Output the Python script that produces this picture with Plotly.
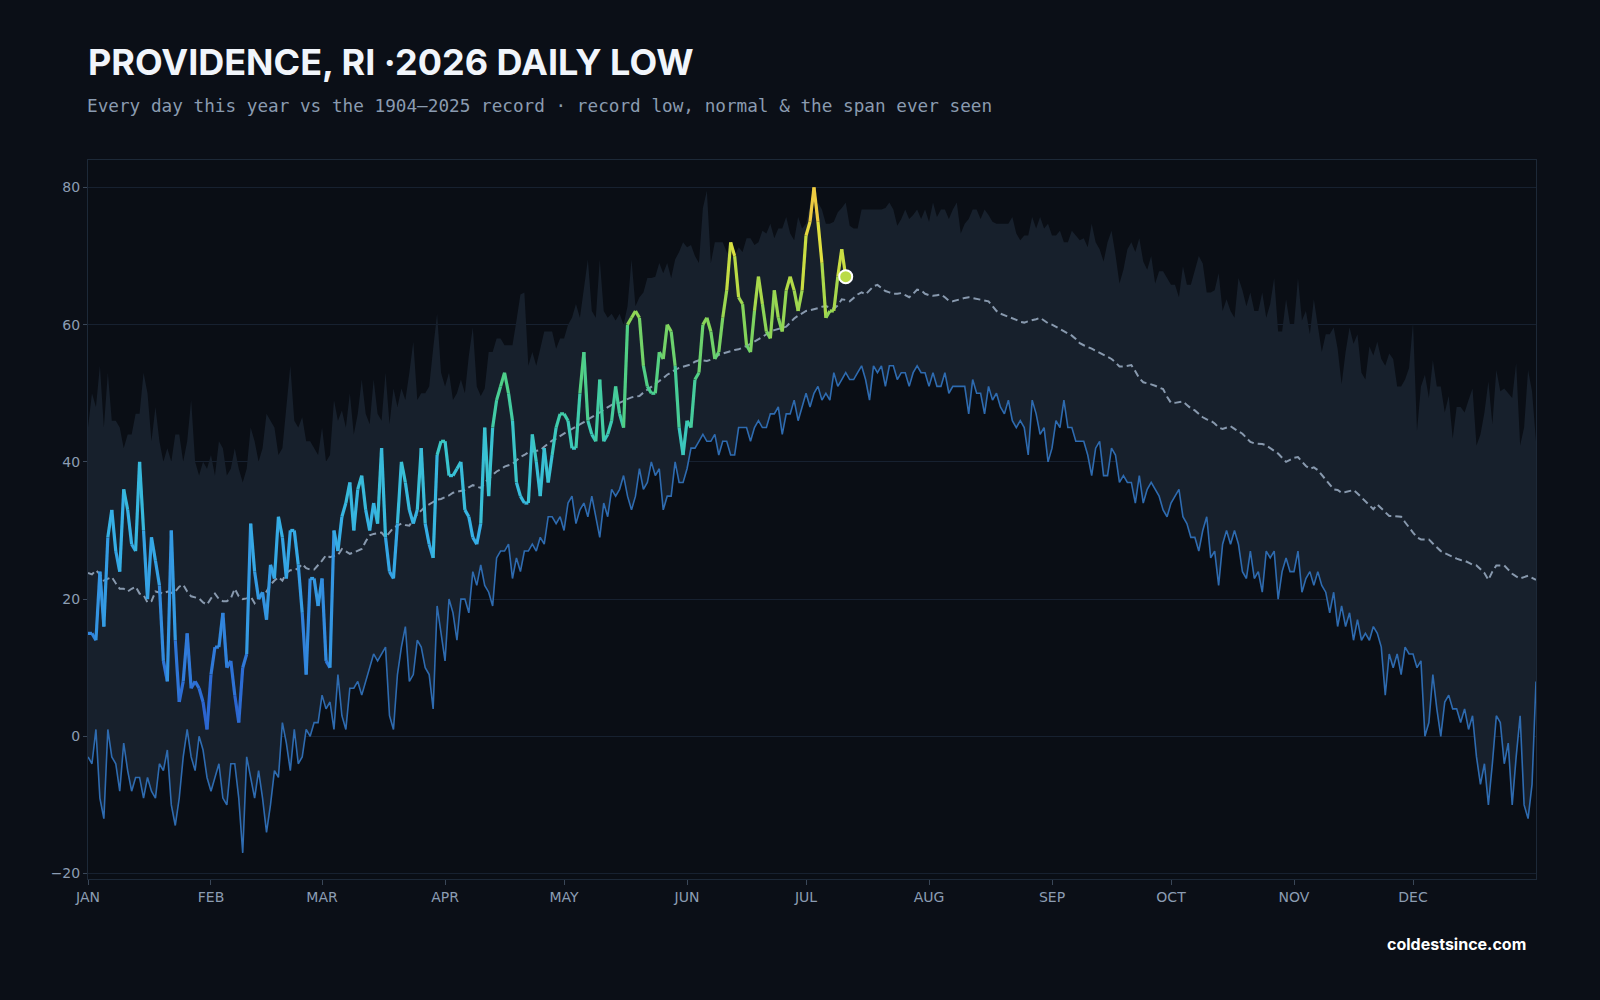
import plotly.graph_objects as go
from plotly.colors import sample_colorscale

# ---------------- data ----------------
MONTH_LABELS = ["JAN", "FEB", "MAR", "APR", "MAY", "JUN", "JUL", "AUG", "SEP", "OCT", "NOV", "DEC"]
MONTH_START = [0, 31, 59, 90, 120, 151, 181, 212, 243, 273, 304, 334]

# record high of the daily low (top of the "span ever seen"), day 0..365
record_high = [
    45, 50, 48, 54, 45, 53, 46, 46, 45, 42, 44, 44, 47, 47, 53, 50, 43, 48, 43, 40,
    42, 40, 44, 44, 40, 43, 49, 40, 38, 40, 39, 41, 38, 43, 42, 38, 39, 42, 39, 37,
    39, 45, 43, 40, 42, 47, 46, 45, 41, 42, 48, 54, 46, 45, 46.5, 43, 43, 42, 41, 45,
    40, 41, 49, 46,
    47.5, 45, 50, 44, 47, 52, 47, 45.5, 52, 47, 46, 53, 45.5, 50.7, 48, 50.7, 49, 53, 57.5, 49,
    50, 50, 51, 56.5, 61.6, 53, 51, 53, 49, 50, 52, 50, 55.5, 59.6, 51, 49.6, 50.7, 56, 56, 58,
    58, 57, 57, 57, 60.6, 64.4, 64.7, 54, 56, 54, 56.5, 59, 59, 59, 56.5, 58, 58, 60, 61, 63,
    61, 65, 69.5, 62, 61, 69.5, 62, 61, 61.6, 60.6, 61.6, 60, 62.7, 69.5, 62.7, 64, 64.7, 66.8, 66.8, 67,
    69, 67.5, 69, 66.8, 69.5, 70.6, 72, 71.3, 71.6, 70, 69, 77, 79.5, 69, 72, 72, 72, 70.6, 70, 70,
    71.3, 70.6, 72.6, 72.6, 71.6, 72, 73.7, 73.3, 74.7, 72.6, 74, 74, 75.7, 73.3, 72.3, 75.7, 74, 74.7, 77.5, 76.4,
    77.8, 76.8, 74.7,
    74.7, 75, 76.4, 77, 77.8, 74.4, 74, 74, 76.8, 76.8, 76.8, 76.8, 76.8, 76.8, 77, 77.8, 76.8, 74.4, 75.4, 76.8,
    75.4, 76, 76.8, 75.4, 76.8, 75, 77.8, 75.7, 76.8, 76.8, 75.4, 76.8, 77.8, 73.3, 74.7, 75.4, 76.8, 76.8, 75.4, 76.8,
    76, 75, 74.7, 74.7, 74.7, 74.7, 75.7, 73.3, 72.3, 73, 73, 75.7, 74, 75.7, 74, 74.7, 73, 73, 73.7, 72,
    72, 73.7, 73,
    72.3, 72.6, 71.3, 74.7, 72, 71, 69.2, 72, 73.7, 70.2, 66, 68, 71, 72, 70.6, 72.6, 69.2, 68, 70, 66,
    67.8, 67.8, 66.8, 65.8, 65.8, 64, 68.5, 65.8, 65.8, 68, 70, 68.9, 64.7, 64.7, 65, 67.5, 62, 63.7, 62, 61,
    66.8, 65, 62.7, 64.7, 62, 62, 64.7, 61, 63, 66.8, 59, 59, 63.7, 60, 60, 66.8, 60.6, 62, 58.6, 63.7,
    60, 56, 58.6,
    58.6, 59.6, 56.5, 51.3, 56, 59.6, 57.2, 58.6, 53, 52, 56.8, 55.5, 57.5, 55, 54, 55.8, 55, 51, 51, 52,
    53.7, 60.3, 44.5, 51, 52.7, 49.3, 54.8, 51, 51, 47.2, 49.6, 43.4, 48, 48, 47.2, 49, 50.7, 42.4, 44, 47.2,
    51.7, 45.5, 53.4, 50.3, 50.7, 50, 49.3, 54.4, 42.4, 45, 53.4, 50.3, 43,
]

# record low, day 0..365
record_low = [
    -3, -4, 1, -9, -12, 1, -3, -4, -8, -1, -5, -8, -6, -6, -9, -6, -8, -9, -4, -5,
    -2, -10, -13, -9, -3, 1, -3, -5, 0, -2, -6, -8, -6, -4, -9, -10, -4, -4, -9, -17,
    -3, -6, -9, -5, -9, -14, -10, -5, -6, 2, -1, -5, 1, -4, -3, 1, 0, 2, 2, 6,
    4, 5, 1, 9,
    3, 1, 7, 7, 8, 6, 8, 10, 12, 11, 12, 13, 3, 1, 9, 13, 16, 8, 9, 14,
    13, 10, 9, 4, 19, 15, 11, 20, 18, 14, 20, 20, 18, 24, 22, 25, 22, 21, 19, 26,
    27, 27, 28, 23, 26, 24, 27, 27, 28, 27, 29, 28, 32, 32, 31, 32, 30, 34, 35, 31,
    33,
    34, 32, 35, 32, 29, 34, 32, 36, 35, 36, 38, 35, 33, 35, 39, 36, 37, 40, 38, 39,
    33, 35, 35, 40, 37, 37, 39, 42, 42, 43, 44, 43, 43, 44, 41, 43, 43, 41, 41, 45,
    45, 45, 43, 45, 46, 45, 45, 47, 47, 48, 44, 47, 47, 49, 46, 48, 50, 48, 50, 51,
    49, 50, 49, 53, 51,
    52, 53, 52, 52, 53, 54, 52, 49, 54, 53, 54, 51, 54, 54, 52, 53, 53, 51, 53, 54,
    53, 53, 51, 53, 51, 51, 53, 50, 51, 51, 51, 51, 47, 52, 50, 50, 47, 51, 49, 50,
    48, 47, 49, 46, 45, 46, 45, 41, 49, 47, 44, 45, 40, 42, 46, 45, 49, 45, 45, 43,
    43, 43, 41, 38, 42, 43, 38, 38, 42, 41, 37, 38, 37, 37, 34, 38, 34, 36, 37, 36,
    35, 33, 32, 34, 35, 36, 32, 31, 29, 29, 27, 30, 32, 26, 27, 22, 28, 30, 28, 30,
    28, 24, 23, 27, 23, 24, 21, 27, 26, 27, 20, 24, 26, 24, 24, 27, 21, 23, 24, 22,
    24, 22, 21,
    18, 21, 16, 19, 16, 18, 14, 17, 14, 15, 14, 16, 15, 13, 6, 12, 10, 12, 9, 13,
    12, 12, 10, 11, 0, 2, 9, 4, 0, 5, 6, 4, 4, 2, 4, 1, 3, -3, -7, -4,
    -10, -4, 3, 2, -4, -1, -10, -3, 3, -10, -12, -7, 8,
]

# normal daily low, day 0..365
normal = [
    23.8, 23.6, 24.2, 23.6, 22.7, 23.0, 23.2, 22.3, 21.5, 21.5, 21.1, 21.5, 21.8, 20.8, 20.6, 19.5, 19.7, 21.1, 20.9, 20.8,
    21.1, 20.9, 21.1, 21.8, 22.1, 21.1, 20.4, 20.2, 20.1, 19.5, 19.2, 20.1, 20.8, 20.0, 19.7, 19.7, 20.1, 21.5, 20.4, 20.0,
    20.1, 20.4, 19.4, 20.2, 20.8, 21.1, 22.1, 22.7, 23.2, 22.7, 23.8, 24.2, 24.2, 24.5, 25.1, 24.5, 24.3, 24.3, 24.9, 25.6,
    26.4, 26.1, 26.3, 26.4,
    27.3, 26.9, 26.6, 26.8, 27.0, 27.3, 28.4, 29.3, 29.5, 29.6, 29.7, 29.0, 29.7, 30.4, 30.7, 31.0, 30.8, 30.7, 31.6, 32.4,
    32.9, 33.5, 33.8, 34.1, 34.5, 34.6, 34.8, 35.1, 35.5, 35.6, 35.8, 35.9, 36.3, 36.6, 36.4, 36.2, 36.9, 37.6, 38.1, 38.6,
    38.9, 39.3, 39.5, 39.7, 40.2, 40.7, 41.0, 41.4, 41.5, 41.6, 41.7, 42.2, 42.7, 43.1, 43.4, 43.8, 44.1, 44.5, 44.8, 45.1,
    45.5, 45.8, 46.2,
    46.5, 46.9, 47.2, 47.6, 48.0, 48.3, 48.5, 48.6, 48.9, 49.2, 49.4, 49.5, 49.6, 50.1, 50.5, 51.0, 51.4, 51.7, 52.2, 52.7,
    53.1, 53.4, 53.7, 53.9, 54.0, 54.2, 54.6, 54.8, 54.8, 54.7, 54.9, 55.3, 55.6, 55.8, 56.0, 56.2, 56.3, 56.4, 56.6, 56.9,
    57.2, 57.5, 57.9, 58.2, 58.6, 59.0, 59.2, 59.4, 59.5, 59.7, 60.3, 60.9, 61.3, 61.7, 62.0, 62.1, 62.2, 62.4, 62.6, 62.7,
    62.5, 62.3, 62.8,
    63.7, 63.6, 63.4, 63.9, 64.4, 64.7, 64.4, 65.0, 65.6, 65.8, 65.4, 64.9, 64.7, 64.5, 64.5, 64.6, 64.3, 64.0, 64.5, 65.1,
    65.0, 64.5, 64.3, 64.2, 64.3, 64.4, 64.0, 63.5, 63.4, 63.6, 63.7, 63.9, 64.0, 63.9, 63.8, 63.7, 63.6, 63.4, 62.7, 62.0,
    61.6, 61.4, 61.2, 61.0, 60.7, 60.4, 60.3, 60.5, 60.6, 60.8, 61.0, 60.6, 60.2, 60.0, 59.7, 59.4, 59.1, 58.8, 58.4, 57.9,
    57.3, 57.0, 56.8,
    56.5, 56.2, 55.9, 55.6, 55.3, 55.0, 54.5, 53.9, 53.9, 54.0, 54.1, 53.2, 52.2, 51.6, 51.5, 51.3, 51.1, 50.9, 50.6, 49.5,
    48.6, 48.6, 48.7, 48.8, 48.3, 47.8, 47.5, 47.0, 46.5, 46.2, 46.0, 45.6, 45.0, 44.8, 45.0, 45.2, 44.8, 44.4, 44.1, 43.5,
    42.9, 42.7, 42.7, 42.6, 42.4, 42.0, 41.7, 41.2, 40.6, 40.0, 40.3, 40.6, 40.7, 40.1, 39.4, 39.0, 39.2, 38.8, 38.1, 37.4,
    36.6, 36.0, 35.9,
    35.5, 35.6, 35.8, 35.9, 35.4, 34.8, 34.2, 33.7, 33.1, 33.8, 33.2, 32.6, 32.1, 32.1, 32.1, 32.0, 31.2, 30.4, 29.7, 29.0,
    28.7, 28.7, 28.7, 28.1, 27.5, 27.0, 26.7, 26.4, 26.1, 25.9, 25.7, 25.6, 25.3, 25.0, 24.9, 24.3, 23.8, 22.8, 24.0, 24.9,
    24.9, 24.9, 24.3, 23.7, 23.3, 23.0, 23.2, 23.4, 23.1, 22.8,
]

# 2026 observed daily lows, day 0..191
low_2026 = [
    15, 15, 14, 24, 16, 29, 33, 27, 24, 36, 33, 28, 27, 40, 30, 20, 29, 25.6, 22, 11,
    8, 30, 14, 5, 8, 15, 7, 8, 7, 5, 1, 9, 13, 13, 18, 10, 11, 6, 2, 10,
    12, 31, 24, 20, 21, 17, 25, 23, 32, 29, 23, 30, 30, 25, 18, 9, 23, 23, 19, 23,
    11, 10, 30, 27,
    32, 34, 37, 30, 36, 38, 33, 30, 34, 31, 42, 29, 24, 23, 31, 40, 37, 33, 31, 33,
    42, 31, 28, 26, 41, 43, 43, 38, 38, 39, 40, 33, 32, 29, 28, 31, 45, 35, 45, 49,
    51, 53, 50, 46, 37, 35, 34, 34, 44, 40, 35, 42, 37, 41, 45, 47, 47, 46, 42, 42,
    50,
    56, 46, 44, 43, 52, 43, 44, 46, 51, 47, 45, 60, 61, 62, 61, 54, 51, 50, 50, 56,
    55, 60, 59, 54, 45, 41, 46, 45, 52, 53, 60, 61, 59, 55, 56, 61, 65, 72, 70, 64,
    63, 57, 56, 62, 67, 63, 59, 58, 65, 61, 59, 65, 67, 65, 62, 65, 73, 75, 80, 75,
    69, 61, 62, 62, 67, 71, 67,
]

days = list(range(len(record_high)))
days_2026 = list(range(len(low_2026)))

# ---------------- styling ----------------
BG = "#0b0f17"
PLOT_BG = "#0a0e15"
BAND = "#17202c"
GRID = "#172130"
FRAME = "#1d2938"
TICK_TXT = "#8c9db3"
LOW_LINE = "#2e6bb0"
NORMAL_LINE = "#8899ae"

COLORSCALE = [
    [0.0, "#2a5ccc"], [0.125, "#2f76d8"], [0.25, "#3496e2"], [0.375, "#36afe6"],
    [0.5, "#3ac3d2"], [0.5625, "#3dcab2"], [0.65, "#4ecf88"], [0.75, "#84d45a"],
    [0.84, "#bcdb45"], [0.9, "#dfe040"], [1.0, "#f5c242"],
]
VMIN, VMAX = 0, 80


def color_for(v):
    t = min(max((v - VMIN) / (VMAX - VMIN), 0), 1)
    return sample_colorscale(COLORSCALE, [t])[0]


fig = go.Figure()

# span ever seen (band)
fig.add_trace(go.Scatter(x=days, y=record_high, mode="lines",
                         line=dict(width=0, color=BAND), hoverinfo="skip", showlegend=False))
fig.add_trace(go.Scatter(x=days, y=record_low, mode="lines", fill="tonexty", fillcolor=BAND,
                         line=dict(width=0, color=BAND), hoverinfo="skip", showlegend=False))
# record low line
fig.add_trace(go.Scatter(x=days, y=record_low, mode="lines",
                         line=dict(width=1.6, color=LOW_LINE), showlegend=False))
# normal
fig.add_trace(go.Scatter(x=days, y=normal, mode="lines",
                         line=dict(width=2, color=NORMAL_LINE, dash="7px,4px"), showlegend=False))

# 2026 line, coloured by value
for i in range(len(low_2026) - 1):
    v = (low_2026[i] + low_2026[i + 1]) / 2
    fig.add_trace(go.Scatter(x=days_2026[i:i + 2], y=low_2026[i:i + 2], mode="lines",
                             line=dict(width=3.2, color=color_for(v)),
                             showlegend=False, hoverinfo="skip"))

# latest day marker
fig.add_trace(go.Scatter(x=[days_2026[-1]], y=[low_2026[-1]], mode="markers",
                         marker=dict(size=13, color=color_for(low_2026[-1]),
                                     line=dict(color="#ffffff", width=2)),
                         showlegend=False))

fig.update_layout(
    width=1600, height=1000,
    paper_bgcolor=BG, plot_bgcolor=PLOT_BG,
    margin=dict(l=88, r=64, t=160, b=121),
    font=dict(family="DejaVu Sans", color=TICK_TXT, size=14),
    title=dict(text="<b>PROVIDENCE, RI ·2026 DAILY LOW</b>",
               x=88 / 1600, xanchor="left", y=1 - 62 / 1000, yanchor="middle",
               font=dict(family="Inter", size=36, color="#f1f5fb")),
    showlegend=False,
)

fig.update_xaxes(
    range=[0, 365], tickvals=MONTH_START, ticktext=MONTH_LABELS,
    showgrid=False, zeroline=False,
    ticks="outside", ticklen=5, tickcolor="#3a4758",
    showline=True, mirror=True, linecolor=FRAME, linewidth=1,
    tickfont=dict(size=14, color=TICK_TXT),
)
fig.update_yaxes(
    range=[-20.8, 84], tickvals=[-20, 0, 20, 40, 60, 80],
    showgrid=True, gridcolor=GRID, gridwidth=1, zeroline=False,
    ticks="outside", ticklen=4, tickcolor="#3a4758",
    showline=True, mirror=True, linecolor=FRAME, linewidth=1,
    tickfont=dict(size=14, color=TICK_TXT),
)

fig.add_annotation(
    text="Every day this year vs the 1904\u20132025 record \u00b7 record low, normal & the span ever seen",
    xref="paper", yref="paper", x=0, y=(879 - 106) / 719, xanchor="left", yanchor="middle",
    xshift=-3, showarrow=False, font=dict(family="DejaVu Sans Mono", size=17.7, color="#8a9bb0"),
)
fig.add_annotation(
    text="<b>coldestsince.com</b>",
    xref="paper", yref="paper", x=(1528 - 88) / 1448, y=(879 - 944) / 719,
    xanchor="right", yanchor="middle", showarrow=False,
    font=dict(family="Inter", size=16, color="#ffffff"),
)

fig.write_html("out.html")
